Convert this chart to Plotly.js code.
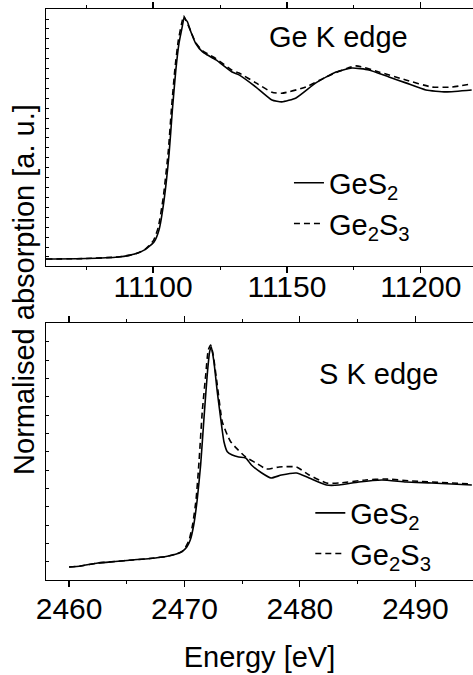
<!DOCTYPE html>
<html>
<head>
<meta charset="utf-8">
<script src="https://cdn.plot.ly/plotly-3.0.1.min.js"></script>
<style>html,body{margin:0;padding:0;background:#fff;}#chart{width:473px;height:675px;}</style>
</head>
<body>
<div id="chart"></div>
<script>
// ---- Ge K edge (top panel) ----
var geEnergyGeS2 = [11060, 11075, 11087, 11091, 11094, 11097, 11100.4, 11102.2, 11104.1, 11106.0, 11107.2, 11108.5, 11109.7, 11110.9, 11111.6, 11112.2, 11112.8, 11114.1, 11115.9, 11118.4, 11120.3, 11123.5, 11129.5, 11132.1, 11138.4, 11144.4, 11148.1, 11153.4, 11160.8, 11168.3, 11174.3, 11180.6, 11188.1, 11194.4, 11201.9, 11209.3, 11219];
var geAbsGeS2 = [-0.006, -0.003, 0.006, 0.015, 0.027, 0.048, 0.094, 0.162, 0.335, 0.607, 0.855, 1.087, 1.243, 1.337, 1.391, 1.376, 1.366, 1.308, 1.241, 1.192, 1.173, 1.145, 1.075, 1.058, 0.988, 0.913, 0.902, 0.925, 1.012, 1.075, 1.098, 1.087, 1.046, 1.012, 0.971, 0.960, 0.971];
var geEnergyGe2S3 = [11060, 11075, 11087, 11091, 11094, 11097, 11100.1, 11101.9, 11103.8, 11105.7, 11106.9, 11108.2, 11109.4, 11110.6, 11111.4, 11112.3, 11114.1, 11115.9, 11118.4, 11120.3, 11123.5, 11129.5, 11132.1, 11138.4, 11144.4, 11148.1, 11157.1, 11164.6, 11175.7, 11184.3, 11194.4, 11204.1, 11211.6, 11219];
var geAbsGe2S3 = [-0.006, -0.003, 0.006, 0.015, 0.027, 0.050, 0.100, 0.175, 0.350, 0.620, 0.870, 1.100, 1.255, 1.350, 1.400, 1.372, 1.310, 1.245, 1.198, 1.180, 1.152, 1.085, 1.069, 1.012, 0.958, 0.952, 0.988, 1.046, 1.110, 1.075, 1.029, 0.988, 0.988, 1.006];

// ---- S K edge (bottom panel) ----
var sEnergyGeS2 = [2460, 2461, 2462.5, 2464, 2465.5, 2467, 2468.4, 2469.3, 2469.8, 2470.2, 2470.5, 2470.8, 2471.1, 2471.4, 2471.69, 2471.97, 2472.18, 2472.32, 2472.55, 2472.84, 2473.13, 2473.42, 2473.71, 2474.14, 2474.7, 2475.3, 2475.8, 2476.7, 2477.5, 2478.4, 2479.7, 2480.8, 2482.3, 2483.4, 2485.1, 2487.1, 2489.2, 2491.4, 2494.9];
var sAbsGeS2 = [-0.254, -0.239, -0.194, -0.172, -0.149, -0.127, -0.097, -0.060, -0.022, 0.045, 0.149, 0.373, 0.746, 1.269, 1.970, 2.612, 2.960, 3.034, 2.810, 2.363, 1.970, 1.616, 1.467, 1.418, 1.388, 1.373, 1.269, 1.149, 1.075, 1.119, 1.149, 1.075, 0.970, 0.970, 1.015, 1.045, 1.015, 1.000, 0.970];
var sEnergyGe2S3 = [2460, 2461, 2462.5, 2464, 2465.5, 2467, 2468.4, 2469.3, 2469.8, 2470.1, 2470.4, 2470.7, 2471.0, 2471.26, 2471.54, 2471.84, 2472.06, 2472.27, 2472.49, 2472.84, 2473.27, 2473.71, 2474.0, 2474.5, 2475.3, 2476.2, 2477.1, 2478.2, 2479.7, 2480.8, 2482.3, 2483.4, 2485.7, 2487.4, 2489.7, 2494.9];
var sAbsGe2S3 = [-0.254, -0.239, -0.194, -0.172, -0.149, -0.127, -0.097, -0.060, -0.022, 0.045, 0.149, 0.373, 0.746, 1.318, 2.064, 2.612, 2.985, 3.060, 2.910, 2.463, 1.915, 1.716, 1.616, 1.520, 1.388, 1.299, 1.209, 1.239, 1.239, 1.119, 1.000, 1.000, 1.045, 1.060, 1.030, 0.985];

var seriesNames = ['GeS<sub>2</sub>', 'Ge<sub>2</sub>S<sub>3</sub>'];
var panelLabels = ['Ge K edge', 'S K edge'];
var geTickVals = [11100, 11150, 11200];
var sTickVals = [2460, 2470, 2480, 2490];

var FONT = 'Liberation Sans, Arial, sans-serif';
var FS = 29;
var solid = {color: '#000', width: 1.6, shape: 'spline', smoothing: 0.5};
var dashed = {color: '#000', width: 1.6, dash: '6px,4px', shape: 'spline', smoothing: 0.5};

var traces = [
  {x: geEnergyGeS2, y: geAbsGeS2, xaxis: 'x', yaxis: 'y', mode: 'lines', name: seriesNames[0], line: solid, legend: 'legend'},
  {x: geEnergyGe2S3, y: geAbsGe2S3, xaxis: 'x', yaxis: 'y', mode: 'lines', name: seriesNames[1], line: dashed, legend: 'legend'},
  {x: sEnergyGeS2, y: sAbsGeS2, xaxis: 'x2', yaxis: 'y2', mode: 'lines', name: seriesNames[0], line: solid, legend: 'legend2'},
  {x: sEnergyGe2S3, y: sAbsGe2S3, xaxis: 'x2', yaxis: 'y2', mode: 'lines', name: seriesNames[1], line: dashed, legend: 'legend2'}
];

var xCommon = {
  showline: true, linecolor: '#000', linewidth: 1.3, mirror: 'ticks',
  ticks: 'outside', ticklen: 6, tickwidth: 1.2, tickcolor: '#000',
  showgrid: false, zeroline: false, tickformat: 'd',
  tickfont: {family: FONT, size: 30, color: '#000'},
  minor: {ticks: 'outside', ticklen: 3, tickwidth: 1, tickcolor: '#000'}
};
var yCommon = {
  showline: true, linecolor: '#000', linewidth: 1.3, mirror: false,
  ticks: 'inside', ticklen: 3, tickwidth: 1, tickcolor: '#000',
  showticklabels: false, showgrid: false, zeroline: false
};

var layout = {
  width: 473, height: 675,
  margin: {l: 46, r: 0, t: 9, b: 95},
  paper_bgcolor: '#fff', plot_bgcolor: '#fff',
  font: {family: FONT, size: FS, color: '#000'},
  xaxis: Object.assign({}, xCommon, {domain: [0, 1], anchor: 'y', range: [11060, 11219.5], tickvals: geTickVals, ticklabelstandoff: -12,
    minor: Object.assign({}, xCommon.minor, {dtick: 25, tick0: 11075})}),
  yaxis: Object.assign({}, yCommon, {domain: [0.55, 1], anchor: 'x', range: [-0.046, 1.439], tick0: 0.006, dtick: 0.0573}),
  xaxis2: Object.assign({}, xCommon, {domain: [0, 1], anchor: 'y2', range: [2458, 2495], tickvals: sTickVals, ticklabelstandoff: -4,
    minor: Object.assign({}, xCommon.minor, {dtick: 5, tick0: 2455}),
    title: {text: 'Energy [eV]', font: {family: FONT, size: FS, color: '#000'}, standoff: 22}}),
  yaxis2: Object.assign({}, yCommon, {domain: [0, 0.4501], anchor: 'x2', range: [-0.448, 3.388], tick0: -0.175, dtick: 0.2736}),
  legend: {x: 0.569, y: 0.740, xanchor: 'left', yanchor: 'top', bgcolor: 'rgba(0,0,0,0)', borderwidth: 0, font: {family: FONT, size: FS, color: '#000'}},
  legend2: {x: 0.619, y: 0.162, xanchor: 'left', yanchor: 'top', bgcolor: 'rgba(0,0,0,0)', borderwidth: 0, font: {family: FONT, size: FS, color: '#000'}},
  annotations: [
    {text: panelLabels[0], xref: 'paper', yref: 'paper', x: 0.684, y: 0.951, showarrow: false, xanchor: 'center', yanchor: 'middle', font: {family: FONT, size: FS, color: '#000'}},
    {text: panelLabels[1], xref: 'paper', yref: 'paper', x: 0.778, y: 0.361, showarrow: false, xanchor: 'center', yanchor: 'middle', font: {family: FONT, size: FS, color: '#000'}},
    {text: 'Normalised absorption [a. u.]', xref: 'paper', yref: 'paper', x: -0.0515, y: 0.508, showarrow: false, textangle: -90, xanchor: 'center', yanchor: 'middle', font: {family: FONT, size: FS, color: '#000'}}
  ],
  showlegend: true
};

Plotly.newPlot('chart', traces, layout, {displayModeBar: false, staticPlot: true});
</script>
</body>
</html>
